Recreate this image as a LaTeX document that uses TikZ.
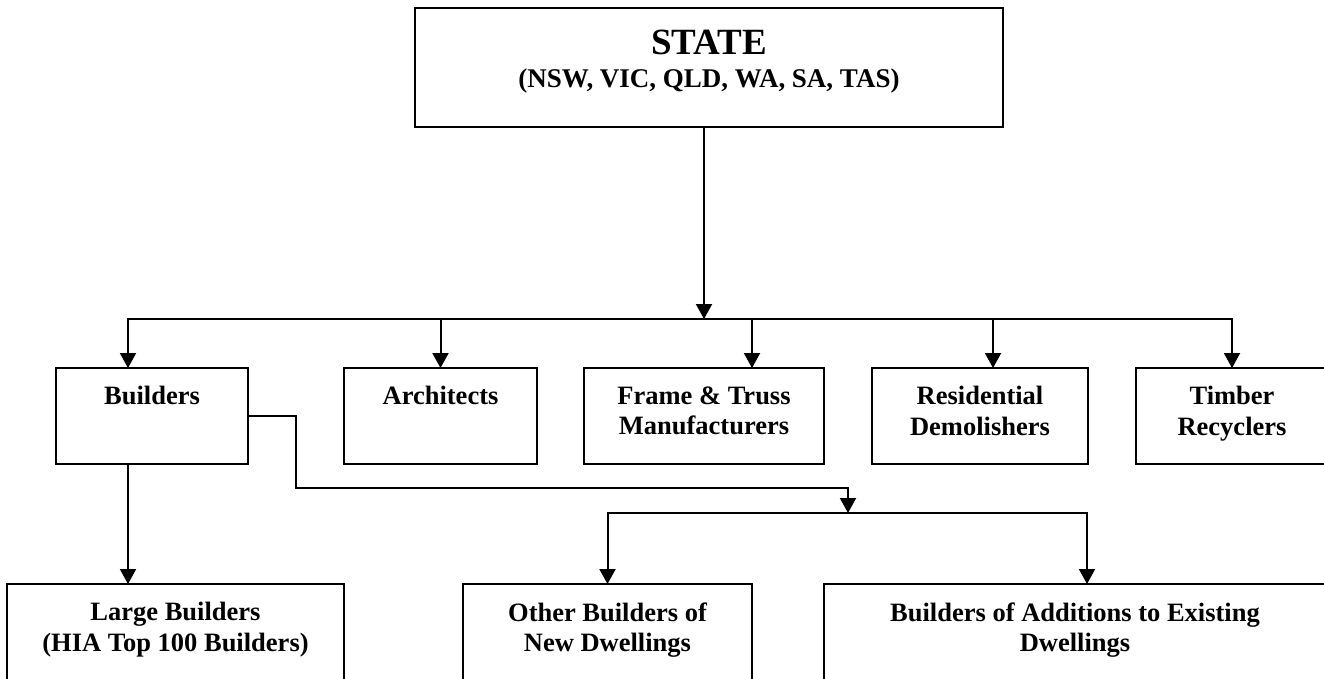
\documentclass[tikz,border=0pt]{standalone}
\usepackage{fontspec}
\setmainfont{Liberation Serif}
\usetikzlibrary{arrows.meta}
\tikzset{
  box/.style={draw, rectangle, line width=2.2pt, inner sep=0pt, outer sep=0pt, anchor=north west},
  lab/.style={anchor=north, inner sep=0pt, outer sep=0pt, align=center,
    font=\bfseries\fontsize{26.5}{30.5}\selectfont},
  conn/.style={line width=2pt},
  arr/.style={line width=2pt, -{Triangle[width=16pt,length=15pt]}}
}
\begin{document}
\begin{tikzpicture}[x=1pt, y=-1pt]
\useasboundingbox (0,0) rectangle (1324,679);
\clip (0,0) rectangle (1324,679);
% boxes
\node[box, minimum width=588pt, minimum height=119pt] (state) at (415,8) {};
\node[box, minimum width=192pt, minimum height=96pt] (builders) at (56,368) {};
\node[box, minimum width=193pt, minimum height=96pt] (architects) at (344,368) {};
\node[box, minimum width=240pt, minimum height=96pt] (frame) at (584,368) {};
\node[box, minimum width=216pt, minimum height=96pt] (resid) at (872,368) {};
\node[box, minimum width=204pt, minimum height=96pt] (timber) at (1136,368) {};
\node[box, minimum width=337pt, minimum height=130pt] (large) at (7,584) {};
\node[box, minimum width=289pt, minimum height=130pt] (other) at (463,584) {};
\node[box, minimum width=530pt, minimum height=130pt] (additions) at (824,584) {};
% texts
\node[lab, font=\bfseries\fontsize{27}{33}\selectfont] (state-t) at ([yshift=-22pt]state.north)
  {{\fontsize{37}{37}\selectfont STATE}\\(NSW, VIC, QLD, WA, SA, TAS)};
\node[lab] (builders-t) at ([yshift=-18.5pt]builders.north) {Builders};
\node[lab] (architects-t) at ([yshift=-18.5pt]architects.north) {Architects};
\node[lab] (frame-t) at ([yshift=-18.5pt]frame.north) {Frame \& Truss\\Manufacturers};
\node[lab] (resid-t) at ([yshift=-18.5pt]resid.north) {Residential\\Demolishers};
\node[lab] (timber-t) at ([xshift=-6pt,yshift=-18.5pt]timber.north) {Timber\\Recyclers};
\node[lab] (large-t) at ([yshift=-18.5pt]large.north) {Large Builders\\(HIA Top 100 Builders)};
\node[lab] (other-t) at ([yshift=-18.5pt]other.north) {Other Builders of\\New Dwellings};
\node[lab] (additions-t) at ([xshift=-14pt,yshift=-18.5pt]additions.north) {Builders of Additions to Existing\\Dwellings};
% junctions
\coordinate (j1) at (704,319);
\coordinate (k1) at (296,488);
\coordinate (j2) at (848,513);
% connectors
\draw[arr] (state.south -| j1) -- (j1);
\draw[arr] (j1) -| ([xshift=-24pt]builders.north);
\draw[arr] (j1) -| ([xshift=-6pt]timber.north);
\draw[arr] (architects.north |- j1) -- (architects.north);
\draw[arr] ([xshift=48pt]frame.north |- j1) -- ([xshift=48pt]frame.north);
\draw[arr] ([xshift=13pt]resid.north |- j1) -- ([xshift=13pt]resid.north);
\draw[arr] (builders.east) -| (k1) -| (j2);
\draw[arr] (j2) -| (other.north);
\draw[arr] (j2) -| ([xshift=-2pt]additions.north);
\draw[arr] ([xshift=-24pt]builders.south) -- ([xshift=-24pt]builders.south |- large.north);
\end{tikzpicture}
\end{document}
